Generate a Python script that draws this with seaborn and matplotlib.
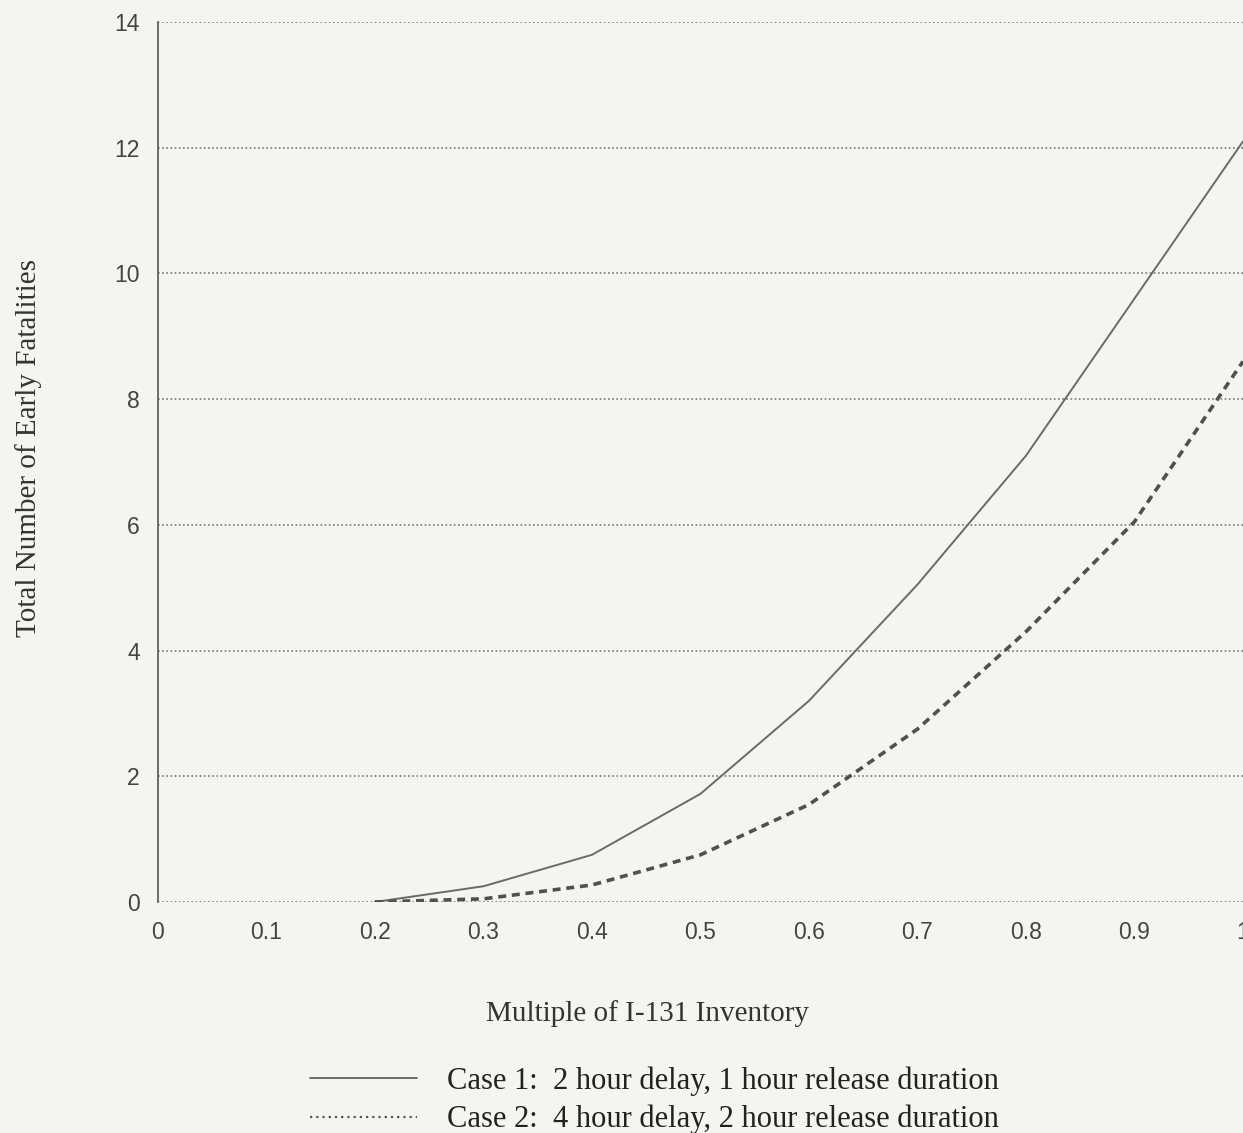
import numpy as np
import pandas as pd
import matplotlib.pyplot as plt
import seaborn as sns
from matplotlib.lines import Line2D

# Data
inventory = [0.2, 0.3, 0.4, 0.5, 0.6, 0.7, 0.8, 0.9, 1.0]
case1 = [0.0, 0.25, 0.75, 1.72, 3.2, 5.05, 7.1, 9.6, 12.1]
case2 = [0.0, 0.05, 0.27, 0.75, 1.55, 2.75, 4.3, 6.05, 8.6]

x_ticks = [0, 0.1, 0.2, 0.3, 0.4, 0.5, 0.6, 0.7, 0.8, 0.9, 1]
x_labels = ['0', '0.1', '0.2', '0.3', '0.4', '0.5', '0.6', '0.7', '0.8', '0.9', '1']
y_ticks = [0, 2, 4, 6, 8, 10, 12, 14]

legend_labels = ['Case 1:  2 hour delay, 1 hour release duration',
                 'Case 2:  4 hour delay, 2 hour release duration']

bg = '#f4f4f2'
ink = '#555555'

sns.set_style('white')
plt.rcParams['font.family'] = ['Liberation Sans', 'DejaVu Sans']

fig = plt.figure(figsize=(12.43, 11.33), dpi=100, facecolor=bg)
ax = fig.add_axes([0.127, 0.2039, 0.873, 0.7767])
ax.set_facecolor(bg)

sns.lineplot(x=inventory, y=case1, ax=ax, color='#6a6a6a', lw=1.4, linestyle='-')
sns.lineplot(x=inventory, y=case2, ax=ax, color='#505050', lw=2.6, linestyle=(0, (2.2, 1.6)))

ax.set_xlim(0, 1)
ax.set_ylim(0, 14)
ax.set_xticks(x_ticks)
ax.set_xticklabels(x_labels)
ax.set_yticks(y_ticks)

# dotted horizontal grid like the original
for y in y_ticks:
    ax.axhline(y, color='#777777', lw=1.2, linestyle=(0, (1, 1.5)), zorder=0.5)

for s in ['top', 'right', 'bottom']:
    ax.spines[s].set_visible(False)
ax.spines['left'].set_color(ink)
ax.spines['left'].set_linewidth(1.2)

ax.tick_params(axis='x', direction='out', length=10, width=1.1, color=ink,
               labelsize=16.5, labelcolor='#444444', pad=4)
ax.tick_params(axis='y', direction='out', length=10, width=1.1, color=ink,
               labelsize=16.5, labelcolor='#444444', pad=3)

ax.set_xlabel('Multiple of I-131 Inventory', family='Liberation Serif',
              fontsize=21, color='#333333')
ax.xaxis.set_label_coords(0.451, -0.111)
ax.set_ylabel('Total Number of Early Fatalities', family='Liberation Serif',
              fontsize=21, color='#333333')
ax.yaxis.set_label_coords(-0.107, 0.516)

handles = [Line2D([], [], color='#555555', lw=1.2, linestyle='-'),
           Line2D([], [], color='#555555', lw=1.6, linestyle=(0, (1, 1.8)))]
leg = fig.legend(handles, legend_labels, loc='center left',
                 bbox_to_anchor=(0.227, 0.029), frameon=False,
                 handlelength=3.5, handletextpad=1.0, labelspacing=0.3,
                 prop={'family': 'Liberation Serif', 'size': 22})
for t in leg.get_texts():
    t.set_color('#222222')

fig.savefig('out.png', dpi=100, facecolor=bg)
